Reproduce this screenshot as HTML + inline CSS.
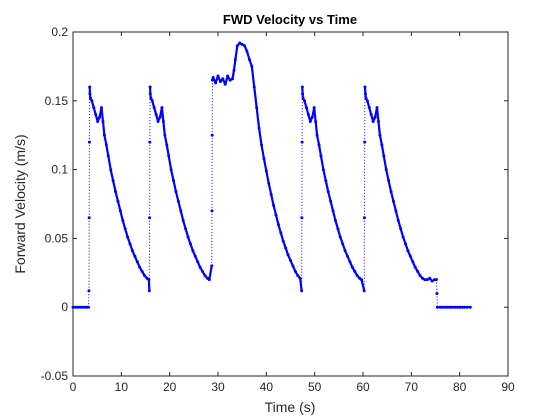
<!DOCTYPE html>
<html><head><meta charset="utf-8"><style>
body{margin:0;background:#fff;}
svg{display:block;font-family:"Liberation Sans",sans-serif;}
</style></head><body>
<svg id="chart" width="560" height="420">
<rect width="560" height="420" fill="#fff"/>
<g id="axes"></g>
<g id="series"></g>
<text x="290" y="24" text-anchor="middle" font-size="13" font-weight="bold" fill="#000">FWD Velocity vs Time</text>
<text x="290" y="412" text-anchor="middle" font-size="14" fill="#262626">Time (s)</text>
<text transform="translate(25,204) rotate(-90)" text-anchor="middle" font-size="14" fill="#262626">Forward Velocity (m/s)</text>
</svg>
<script>
const xTicks=[0,10,20,30,40,50,60,70,80,90];
const yTicks=[-0.05,0,0.05,0.1,0.15,0.2];
const yTickLabels=["-0.05","0","0.05","0.1","0.15","0.2"];
const times=[0,0.5,1,1.5,2,2.5,3,3.2,3.3,3.35,3.4,3.45,3.5,3.6,3.9,4.3,4.7,5.1,5.5,5.9,6.2,6.5,6.9,7.3,7.8,8.3,8.8,9.3,9.8,10.3,10.8,11.3,11.8,12.3,12.8,13.3,13.8,14.3,14.8,15.3,15.7,
15.8,15.85,15.9,15.95,16.0,16.1,16.4,16.8,17.2,17.6,18.0,18.4,18.7,19.0,19.4,19.8,20.3,20.8,21.3,21.8,22.3,22.8,23.3,23.8,24.3,24.8,25.3,25.8,26.3,26.8,27.3,27.8,28.2,
28.7,28.75,28.8,28.85,29,29.5,30,30.5,31,31.5,32,32.5,33,33.3,33.6,34,34.5,35,35.5,36,36.5,37,37.5,38,38.5,39,39.5,40,40.5,41,41.5,42,42.5,43,43.5,44,44.5,45,45.5,46,46.5,47,
47.3,47.35,47.4,47.45,47.5,47.6,47.9,48.3,48.7,49.1,49.5,49.9,50.2,50.5,50.9,51.3,51.8,52.3,52.8,53.3,53.8,54.3,54.8,55.3,55.8,56.3,56.8,57.3,57.8,58.3,58.8,59.3,59.7,
60.25,60.3,60.35,60.4,60.5,60.6,60.9,61.3,61.7,62.1,62.5,62.9,63.2,63.5,63.9,64.3,64.8,65.3,65.8,66.3,66.8,67.3,67.8,68.3,68.8,69.3,69.8,70.3,70.8,71.3,71.8,72.3,72.8,73.3,73.8,74.3,74.8,75.2,
75.3,75.4,76,76.5,77,77.5,78,78.5,79,79.5,80,80.5,81,81.5,82.2];
const velocities=[0,0,0,0,0,0,0,0,0.012,0.065,0.12,0.16,0.155,0.152,0.15,0.145,0.14,0.135,0.138,0.145,0.135,0.125,0.118,0.11,0.1,0.092,0.084,0.077,0.07,0.063,0.057,0.051,0.046,0.041,0.037,0.033,0.029,0.026,0.023,0.021,0.02,
0.012,0.065,0.12,0.16,0.155,0.152,0.15,0.145,0.14,0.135,0.138,0.145,0.135,0.125,0.118,0.11,0.1,0.092,0.084,0.077,0.07,0.063,0.057,0.051,0.046,0.041,0.037,0.033,0.029,0.026,0.023,0.021,0.02,
0.03,0.07,0.125,0.165,0.167,0.163,0.168,0.164,0.166,0.162,0.168,0.165,0.166,0.172,0.18,0.19,0.192,0.191,0.19,0.186,0.18,0.175,0.16,0.145,0.13,0.118,0.108,0.099,0.09,0.082,0.074,0.067,0.06,0.054,0.048,0.043,0.038,0.034,0.03,0.026,0.023,0.021,
0.012,0.065,0.12,0.16,0.155,0.152,0.15,0.145,0.14,0.135,0.138,0.145,0.135,0.125,0.118,0.11,0.1,0.092,0.084,0.077,0.07,0.063,0.057,0.051,0.046,0.041,0.037,0.033,0.029,0.026,0.023,0.021,0.02,
0.012,0.065,0.12,0.16,0.155,0.152,0.15,0.145,0.14,0.135,0.138,0.145,0.135,0.125,0.118,0.11,0.1,0.092,0.084,0.077,0.07,0.063,0.057,0.051,0.046,0.041,0.037,0.033,0.029,0.026,0.023,0.021,0.02,0.02,0.021,0.019,0.02,0.02,
0.01,0,0,0,0,0,0,0,0,0,0,0,0,0,0];
const NS="http://www.w3.org/2000/svg";
const L=73,R=508,T=32,B=376,xMin=0,xMax=90,yMin=-0.05,yMax=0.2;
function xs(v){return L+(v-xMin)/(xMax-xMin)*(R-L);}
function ys(v){return B-(v-yMin)/(yMax-yMin)*(B-T);}
function mk(tag,attrs,parent){const e=document.createElementNS(NS,tag);for(const k in attrs)e.setAttribute(k,attrs[k]);parent.appendChild(e);return e;}
const ax=document.getElementById('axes');
const box=mk('rect',{x:L,y:T,width:R-L,height:B-T,fill:'none',stroke:'#262626','stroke-width':1},ax);


xTicks.forEach(t=>{const x=xs(t);
 mk('line',{x1:x,y1:B,x2:x,y2:B-4,stroke:'#262626'},ax);
 mk('line',{x1:x,y1:T,x2:x,y2:T+4,stroke:'#262626'},ax);
 const tx=mk('text',{x:x,y:B+15,'text-anchor':'middle','font-size':12,fill:'#262626'},ax);tx.textContent=t;
 
 
});
yTicks.forEach((t,i)=>{const y=ys(t);
 mk('line',{x1:L,y1:y,x2:L+4,y2:y,stroke:'#262626'},ax);
 mk('line',{x1:R,y1:y,x2:R-4,y2:y,stroke:'#262626'},ax);
 const tx=mk('text',{x:L-5,y:y+4,'text-anchor':'end','font-size':12,fill:'#262626'},ax);tx.textContent=yTickLabels[i];
 
 
});
const sg=document.getElementById('series');
for(let i=1;i<times.length;i++){
 const dt=times[i]-times[i-1],dv=Math.abs(velocities[i]-velocities[i-1]);
 const jump=dt<=0.15&&dv>0.008||dt>0.3&&dv>0.005&&Math.abs(velocities[i]-velocities[i-1])/dt>0.04&&velocities[i]>velocities[i-1]&&false;
 const seg=mk('line',{x1:xs(times[i-1]),y1:ys(velocities[i-1]),x2:xs(times[i]),y2:ys(velocities[i]),stroke:'#0000ff','stroke-width':jump?1:2.2,'stroke-dasharray':jump?'1,2':'none','stroke-linecap':jump?'butt':'round'},sg);
 
 
}
times.forEach((t,i)=>{const c=mk('circle',{cx:xs(t),cy:ys(velocities[i]),r:1.5,fill:'#0000ff'},sg);
 
 
});
</script>
</body></html>
